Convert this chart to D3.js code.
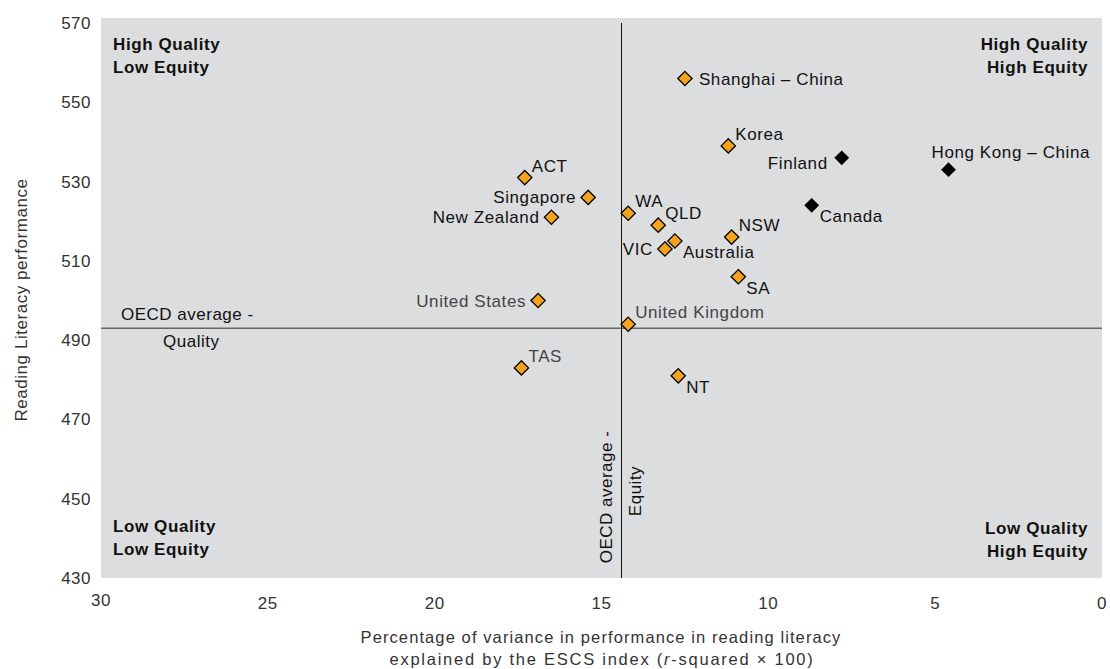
<!DOCTYPE html>
<html><head><meta charset="utf-8">
<script src="https://cdn.jsdelivr.net/npm/d3@7"></script>
<style>
body{margin:0;background:#fff;}
text{font-family:"Liberation Sans",Arial,sans-serif;}
</style></head>
<body><svg id="c" width="1110" height="669"></svg>
<script>
const names = ["Shanghai – China","Korea","Finland","Hong Kong – China","Canada","ACT","Singapore","New Zealand","WA","QLD","Australia","VIC","NSW","SA","United States","United Kingdom","TAS","NT"];
const equity = [12.5,11.2,7.8,4.6,8.7,17.3,15.4,16.5,14.2,13.3,12.8,13.1,11.1,10.9,16.9,14.2,17.4,12.7];
const quality = [556,539,536,533,524,531,526,521,522,519,515,513,516,506,500,494,483,481];
const groups = ["aus","aus","other","other","other","aus","aus","aus","aus","aus","aus","aus","aus","aus","aus","aus","aus","aus"];
const labelPos = ["r","ur","ld","u","dr","ur","l","l","ur","ur","dr","l","ur","dr","l","ur","ur","dr"];
const xTicks = [30,25,20,15,10,5,0];
const yTicks = [430,450,470,490,510,530,550,570];
const oecdEquity = 14.4, oecdQuality = 493;

const svg = d3.select("#c");
const x = d3.scaleLinear().domain([30,0]).range([101,1102]);
const y = d3.scaleLinear().domain([430,570]).range([578,23]);

svg.append("rect").attr("x",101).attr("y",18).attr("width",1001).attr("height",560).attr("fill","#dcdddf");

// axes ticks
svg.append("g").selectAll("text").data(xTicks).join("text")
  .attr("x",d=>x(d)).attr("y",d=>d===30?606:609).attr("text-anchor","middle")
  .attr("font-size",17).attr("letter-spacing",0.5).attr("fill","#333").text(d=>d);
svg.append("g").selectAll("text").data(yTicks).join("text")
  .attr("x",91).attr("y",d=>y(d)+6).attr("text-anchor","end")
  .attr("font-size",17).attr("letter-spacing",0.5).attr("fill","#333").text(d=>d);

// reference lines
svg.append("line").attr("x1",x(30)).attr("x2",x(0)).attr("y1",y(oecdQuality)).attr("y2",y(oecdQuality)).attr("stroke","#666").attr("stroke-width",1.5);
svg.append("line").attr("x1",x(oecdEquity)).attr("x2",x(oecdEquity)).attr("y1",23).attr("y2",578).attr("stroke","#111").attr("stroke-width",1);

// ref labels
const refStyle = t=>t.attr("font-size",17).attr("letter-spacing",0.5).attr("fill","#111");
refStyle(svg.append("text").attr("x",121).attr("y",320)).text("OECD average -");
refStyle(svg.append("text").attr("x",163).attr("y",347)).text("Quality");
refStyle(svg.append("text").attr("transform","translate(612,497) rotate(-90)").attr("text-anchor","middle")).text("OECD average -");
refStyle(svg.append("text").attr("transform","translate(641,491) rotate(-90)").attr("text-anchor","middle")).text("Equity");

// quadrant labels
const quad = [["High Quality","Low Equity",113,50,"start"],["High Quality","High Equity",1088,50,"end"],["Low Quality","Low Equity",113,532,"start"],["Low Quality","High Equity",1088,534,"end"]];
quad.forEach(q=>{
  const t = svg.append("text").attr("font-size",17).attr("letter-spacing",0.6).attr("font-weight","bold").attr("fill","#111").attr("text-anchor",q[4]);
  t.append("tspan").attr("x",q[2]).attr("y",q[3]).text(q[0]);
  t.append("tspan").attr("x",q[2]).attr("y",q[3]+23).text(q[1]);
});

// axis titles
svg.append("text").attr("transform","translate(27,300) rotate(-90)").attr("text-anchor","middle").attr("font-size",17).attr("letter-spacing",0.55).attr("fill","#333").text("Reading Literacy performance");
const xt1 = svg.append("text").attr("text-anchor","middle").attr("font-size",16.5).attr("letter-spacing",1.1).attr("fill","#333")
  .attr("x",601).attr("y",643).text("Percentage of variance in performance in reading literacy");
const xt2 = svg.append("text").attr("text-anchor","middle").attr("font-size",16.5).attr("letter-spacing",1.75).attr("fill","#333")
  .attr("x",602).attr("y",665);
xt2.append("tspan").text("explained by the ESCS index  (");
xt2.append("tspan").attr("font-style","italic").text("r");
xt2.append("tspan").text("-squared × 100)");

// points
const data = names.map((n,i)=>({n,e:equity[i],q:quality[i],g:groups[i],p:labelPos[i]}));
const sym = d3.symbol().type(d3.symbolDiamond2);
svg.append("g").selectAll("path").data(data).join("path")
  .attr("transform",d=>`translate(${x(d.e)},${y(d.q)})`)
  .attr("d",d=>sym.size(d.g==="aus"?130:140)())
  .attr("fill",d=>d.g==="aus"?"#f5a31c":"#000")
  .attr("stroke","#000").attr("stroke-width",d=>d.g==="aus"?1.3:0);

const off = {r:[14,6,"start"],ur:[7,-6,"start"],l:[-12,6,"end"],ld:[-14,11,"end"],u:[-17,-12,"start"],dr:[8,17,"start"]};
const lightNames = ["United States","United Kingdom","TAS"];
svg.append("g").selectAll("text").data(data).join("text")
  .attr("x",d=>x(d.e)+off[d.p][0]).attr("y",d=>y(d.q)+off[d.p][1])
  .attr("text-anchor",d=>off[d.p][2]).attr("font-size",17).attr("letter-spacing",0.6)
  .attr("fill",d=>lightNames.includes(d.n)?"#444":"#111").text(d=>d.n);
</script></body></html>
